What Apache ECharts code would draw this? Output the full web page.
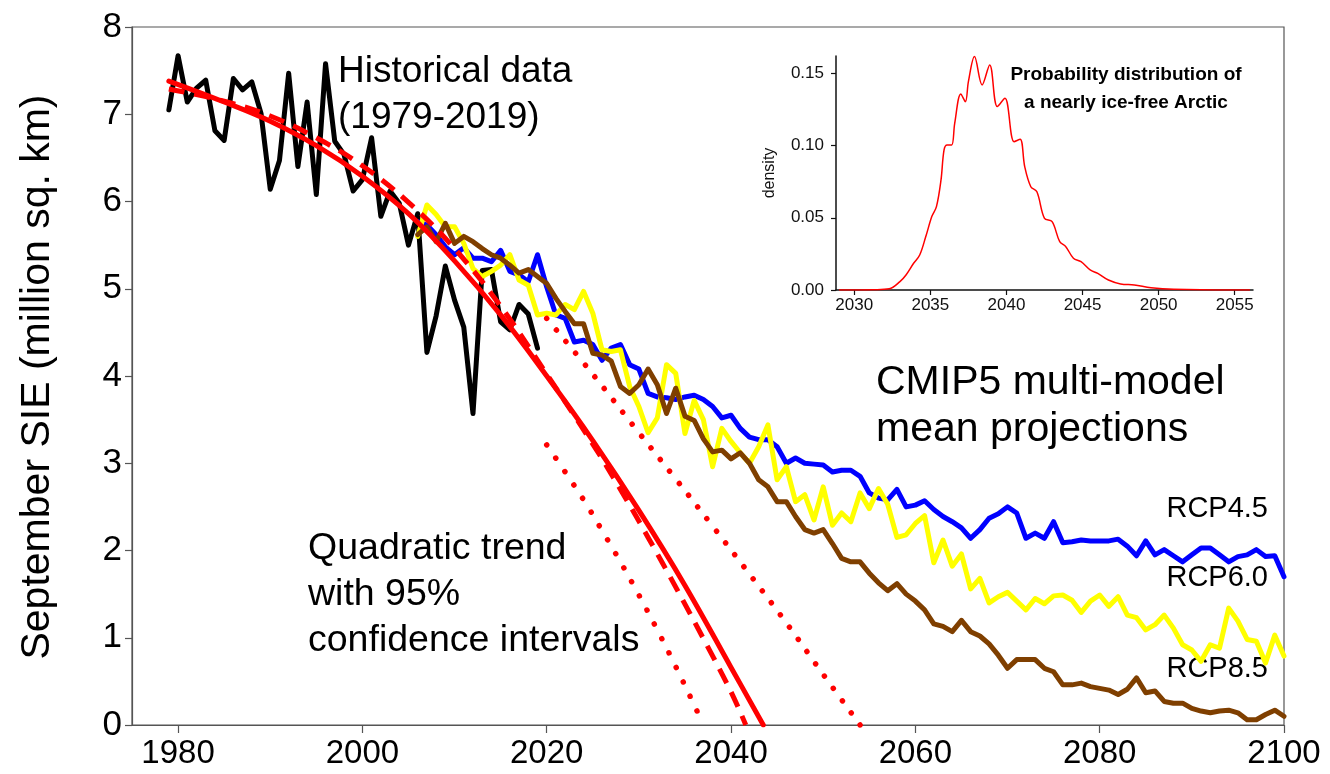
<!DOCTYPE html>
<html>
<head>
<meta charset="utf-8">
<script src="https://cdn.jsdelivr.net/npm/echarts/dist/echarts.min.js"></script>
<style>
html,body{margin:0;padding:0;background:#fff;}
#chart{width:1330px;height:774px;}
</style>
</head>
<body>
<div id="chart"></div>
<script>
// ---------- DATA ----------
const histStart = 1979;
const histSIE = [7.05,7.67,7.14,7.30,7.39,6.81,6.70,7.41,7.28,7.37,7.01,6.14,6.47,7.47,6.40,7.14,6.08,7.58,6.69,6.54,
  6.12,6.25,6.73,5.83,6.12,5.98,5.50,5.86,4.27,4.69,5.26,4.87,4.56,3.57,5.21,5.22,4.62,4.53,4.82,4.71,4.32];

const rcpStart = 2006;
const rcp45 = [5.77,5.73,5.62,5.48,5.39,5.47,5.35,5.35,5.31,5.44,5.20,5.16,5.08,5.39,5.02,4.70,4.66,4.39,4.41,4.36,
  4.18,4.32,4.36,4.13,4.08,3.80,3.76,3.75,3.73,3.76,3.78,3.73,3.65,3.52,3.55,3.40,3.30,3.27,3.27,3.19,
  3.00,3.06,3.00,2.99,2.98,2.90,2.92,2.92,2.85,2.66,2.60,2.58,2.70,2.50,2.52,2.57,2.47,2.39,2.33,2.26,
  2.14,2.24,2.37,2.42,2.50,2.43,2.14,2.20,2.14,2.33,2.09,2.10,2.12,2.11,2.11,2.11,2.13,2.05,1.94,2.11,
  1.95,2.01,1.94,1.87,1.95,2.03,2.03,1.95,1.87,1.93,1.95,2.01,1.93,1.94,1.70];
const rcp60 = [5.60,5.96,5.85,5.71,5.71,5.52,5.23,5.14,5.20,5.27,5.39,5.10,5.04,4.70,4.72,4.70,4.82,4.76,4.97,4.72,
  4.30,4.28,4.30,3.88,3.65,3.35,3.52,4.13,4.03,3.34,3.72,3.50,2.96,3.40,3.25,3.12,3.00,3.19,3.44,2.81,
  2.96,2.56,2.64,2.35,2.73,2.29,2.43,2.33,2.66,2.48,2.71,2.53,2.15,2.18,2.31,2.40,1.86,2.12,1.82,1.96,
  1.56,1.68,1.40,1.47,1.52,1.42,1.32,1.45,1.39,1.48,1.49,1.43,1.29,1.42,1.49,1.36,1.47,1.26,1.23,1.09,
  1.15,1.26,1.11,0.92,0.86,0.73,0.92,0.88,1.34,1.19,0.98,0.96,0.71,1.03,0.79];
const rcp85 = [5.62,5.71,5.54,5.75,5.52,5.60,5.54,5.46,5.39,5.35,5.27,5.18,5.22,5.14,5.06,4.89,4.74,4.60,4.60,4.26,
  4.24,4.17,3.88,3.80,3.90,4.08,3.90,3.57,3.86,3.54,3.49,3.28,3.13,3.15,3.05,3.12,3.00,2.81,2.73,2.56,
  2.56,2.39,2.24,2.20,2.24,2.08,1.91,1.87,1.87,1.74,1.63,1.54,1.62,1.50,1.42,1.32,1.16,1.13,1.07,1.20,
  1.07,1.02,0.93,0.80,0.65,0.75,0.75,0.75,0.65,0.61,0.46,0.46,0.48,0.44,0.42,0.40,0.35,0.41,0.54,0.37,
  0.39,0.27,0.25,0.25,0.19,0.16,0.14,0.16,0.17,0.14,0.06,0.06,0.12,0.17,0.10];

// quadratic trend lines
const trendYears  = [1979,1985,1990,1995,2000,2005,2010,2015,2020,2025,2030,2035,2040,2043.5];
const trendSolid  = [7.38,7.14,6.92,6.64,6.29,5.86,5.32,4.70,4.00,3.26,2.46,1.60,0.66,0];
const dashYears   = [1979,1985,1990,1995,2000,2005,2010,2015,2020,2025,2028,2031,2034,2037,2040,2041.6];
const trendDashed = [7.29,7.15,6.98,6.73,6.41,5.99,5.46,4.80,4.02,3.22,2.70,2.15,1.58,0.99,0.38,0];
const upperYears  = [2020,2025,2030,2034,2038,2042,2046,2050,2054];
const upperCI     = [4.66,4.02,3.35,2.82,2.28,1.73,1.17,0.58,0];
const lowerYears  = [2020,2022,2024,2026,2028,2030,2032,2034,2036,2037];
const lowerCI     = [3.21,2.90,2.58,2.23,1.87,1.49,1.09,0.67,0.23,0];

// inset: probability density of the nearly ice-free year
const densYears = [2029.0,2031.3,2032.3,2033.0,2033.4,2033.9,2034.3,2034.7,2035.1,2035.4,2035.7,2035.9,2036.1,2036.4,2036.6,
  2037.0,2037.3,2037.5,2037.9,2038.4,2038.9,2039.4,2039.9,2040.5,2040.9,2041.2,2041.6,2042.0,2042.5,2043.0,
  2043.5,2043.9,2044.4,2044.9,2045.5,2046.0,2046.7,2047.5,2048.4,2049.5,2051.0,2054.8,2056.0];
const densVals = [0,0.0002,0.0008,0.0058,0.0104,0.0185,0.0242,0.037,0.051,0.0577,0.0762,0.097,0.1004,0.1004,0.1154,
  0.1357,0.1304,0.1443,0.1616,0.142,0.1558,0.127,0.1327,0.1027,0.1043,0.0854,0.0715,0.068,0.0496,0.0473,
  0.0335,0.030,0.022,0.0196,0.0139,0.0115,0.0069,0.0042,0.0035,0.0016,0.0005,0,0];

const mainXTicks = [1980,2000,2020,2040,2060,2080,2100];
const insetXTicks = [2030,2035,2040,2045,2050,2055];
const insetYTicks = [0,0.05,0.10,0.15];

// ---------- BUILD ----------
const fromStart = (start, arr) => arr.map((v, i) => [start + i, v]);
const zipXY = (xs, ys) => xs.map((x, i) => [x, ys[i]]);

const chart = echarts.init(document.getElementById('chart'), null, {renderer: 'canvas'});
const FONT = 'Liberation Sans, Arial, sans-serif';

function lineSeries(name, data, color, extra) {
  return Object.assign({
    name, type: 'line', data, xAxisIndex: 0, yAxisIndex: 0,
    showSymbol: false, symbol: 'none', silent: true,
    lineStyle: {color, width: 5, join: 'round', cap: 'round'}
  }, extra || {});
}

const option = {
  animation: false,
  backgroundColor: '#ffffff',
  grid: [
    {left: 132, top: 27, right: 46, bottom: 49, show: true, borderColor: '#555', borderWidth: 1.2, backgroundColor: 'transparent'},
    {left: 836, top: 56, right: 77, bottom: 484, show: false}
  ],
  xAxis: [
    {type: 'value', gridIndex: 0, min: 1975, max: 2100,
     axisLine: {show: true, lineStyle: {color: '#555', width: 1.2}},
     axisTick: {show: true, length: 8, customValues: mainXTicks, lineStyle: {color: '#555', width: 1.2}},
     axisLabel: {customValues: mainXTicks, color: '#000', fontSize: 33, fontFamily: FONT, margin: 12,
                 formatter: v => String(v)},
     splitLine: {show: false}},
    {type: 'value', gridIndex: 1, min: 2028.8, max: 2056.2,
     axisLine: {show: true, onZero: false, lineStyle: {color: '#111', width: 1.5}},
     axisTick: {show: true, length: 5, customValues: insetXTicks, lineStyle: {color: '#111', width: 1.2}},
     axisLabel: {customValues: insetXTicks, color: '#111', fontSize: 17, fontFamily: FONT, margin: 7,
                 formatter: v => String(v)},
     splitLine: {show: false}}
  ],
  yAxis: [
    {type: 'value', gridIndex: 0, min: 0, max: 8, interval: 1,
     axisLine: {show: true, lineStyle: {color: '#555', width: 1.2}},
     axisTick: {show: true, length: 7, lineStyle: {color: '#555', width: 1.2}},
     axisLabel: {color: '#000', fontSize: 35, fontFamily: FONT, margin: 10},
     splitLine: {show: false}},
    {type: 'value', gridIndex: 1, min: 0, max: 0.162,
     axisLine: {show: true, lineStyle: {color: '#111', width: 1.5}},
     axisTick: {show: true, length: 5, customValues: insetYTicks, lineStyle: {color: '#111', width: 1.2}},
     axisLabel: {customValues: insetYTicks, color: '#111', fontSize: 17, fontFamily: FONT, margin: 12,
                 formatter: v => v.toFixed(2)},
     splitLine: {show: false}}
  ],
  series: [
    lineSeries('Historical', fromStart(histStart, histSIE), '#000000'),
    lineSeries('RCP4.5', fromStart(rcpStart, rcp45), '#0000ff'),
    lineSeries('RCP6.0', fromStart(rcpStart, rcp60), '#ffff00'),
    lineSeries('RCP8.5', fromStart(rcpStart, rcp85), '#7f3f00'),
    lineSeries('Trend', zipXY(trendYears, trendSolid), '#ff0000', {smooth: 0.4}),
    lineSeries('Trend (dashed)', zipXY(dashYears, trendDashed), '#ff0000', {smooth: 0.4,
      lineStyle: {color: '#ff0000', width: 5, type: [16, 10], cap: 'butt'}}),
    lineSeries('Upper 95%', zipXY(upperYears, upperCI), '#ff0000', {smooth: 0.4,
      lineStyle: {color: '#ff0000', width: 5.5, type: [0.1, 15], cap: 'round'}}),
    lineSeries('Lower 95%', zipXY(lowerYears, lowerCI), '#ff0000', {smooth: 0.4,
      lineStyle: {color: '#ff0000', width: 5.5, type: [0.1, 16], cap: 'round'}}),
    {name: 'density', type: 'line', xAxisIndex: 1, yAxisIndex: 1, data: zipXY(densYears, densVals),
     showSymbol: false, symbol: 'none', smooth: 0.35, silent: true, z: 1,
     lineStyle: {color: '#ff0000', width: 1.5}}
  ],
  graphic: [
    {type: 'text', x: 38, y: 377, rotation: Math.PI / 2,
     style: {text: 'September SIE (million sq. km)', font: '41px ' + FONT, fill: '#000', textAlign: 'center', textVerticalAlign: 'middle'}},
    {type: 'text', x: 338, y: 95,
     style: {text: 'Historical data\n(1979-2019)', font: '37px ' + FONT, fill: '#000', textAlign: 'left', textVerticalAlign: 'middle', lineHeight: 46}},
    {type: 'text', x: 876, y: 406,
     style: {text: 'CMIP5 multi-model\nmean projections', font: '41px ' + FONT, fill: '#000', textAlign: 'left', textVerticalAlign: 'middle', lineHeight: 47}},
    {type: 'text', x: 308, y: 595,
     style: {text: 'Quadratic trend\nwith 95%\nconfidence intervals', font: '37.5px ' + FONT, fill: '#000', textAlign: 'left', textVerticalAlign: 'middle', lineHeight: 46}},
    {type: 'text', x: 1268, y: 509,
     style: {text: 'RCP4.5', font: '29px ' + FONT, fill: '#000', textAlign: 'right', textVerticalAlign: 'middle'}},
    {type: 'text', x: 1268, y: 578,
     style: {text: 'RCP6.0', font: '29px ' + FONT, fill: '#000', textAlign: 'right', textVerticalAlign: 'middle'}},
    {type: 'text', x: 1268, y: 669,
     style: {text: 'RCP8.5', font: '29px ' + FONT, fill: '#000', textAlign: 'right', textVerticalAlign: 'middle'}},
    {type: 'text', x: 1126, y: 89,
     style: {text: 'Probability distribution of\na nearly ice-free Arctic', font: 'bold 19px ' + FONT, fill: '#000', textAlign: 'center', textVerticalAlign: 'middle', lineHeight: 28}},
    {type: 'text', x: 770, y: 173, rotation: Math.PI / 2,
     style: {text: 'density', font: '16px ' + FONT, fill: '#111', textAlign: 'center', textVerticalAlign: 'middle'}}
  ]
};
chart.setOption(option);
</script>
</body>
</html>
